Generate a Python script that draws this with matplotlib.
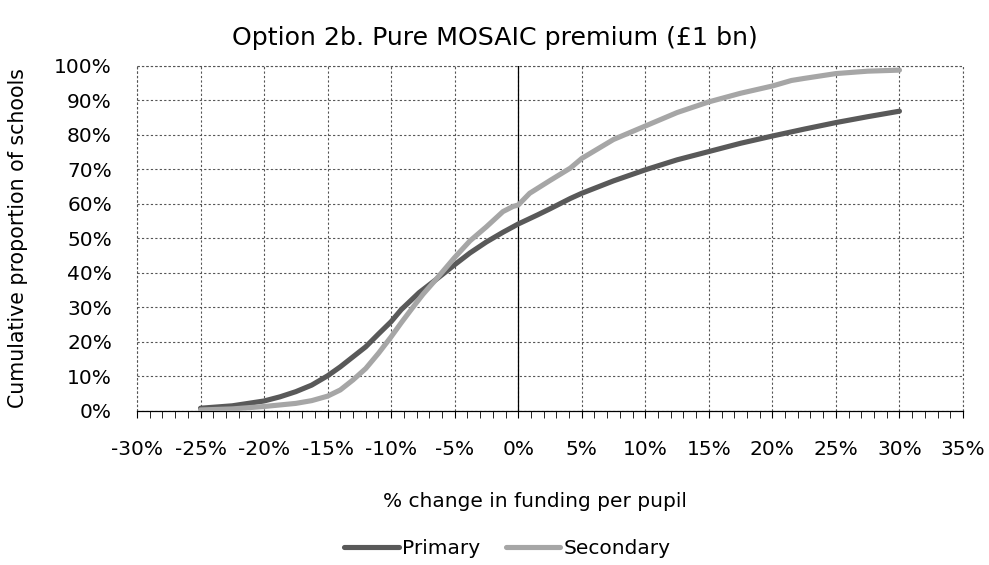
import matplotlib
matplotlib.use("Agg")
import matplotlib.pyplot as plt
from matplotlib.ticker import MultipleLocator, FuncFormatter

plt.rcParams['font.family'] = ['DejaVu Sans']

# % change in funding per pupil (x) vs cumulative share of schools in % (y)
primary_x = [-25, -22.5, -20, -18.75, -17.5, -16.25, -15, -14, -13, -12, -11, -10,
             -9.2, -7.8, -6.5, -5, -3.8, -2.5, -1.2, 0, 1.5, 2.5, 4.1, 5,
             7.5, 10, 12.5, 15, 17.5, 20, 22.5, 25, 27.5, 30]
primary_y = [0.8, 1.5, 2.9, 4.1, 5.6, 7.5, 10.2, 12.8, 15.7, 18.6, 22.3, 25.9,
             29.4, 34.3, 38.0, 42.4, 45.8, 49.0, 51.8, 54.2, 56.8, 58.6, 61.6, 63.1,
             66.7, 69.9, 72.8, 75.2, 77.6, 79.7, 81.7, 83.6, 85.3, 86.9]

secondary_x = [-25, -22.5, -20, -17.5, -16.25, -15, -14, -13, -12, -11, -10,
               -9.2, -8.3, -7.5, -6.5, -5, -3.8, -2.5, -1.2, -0.4, 0, 0.9,
               2.5, 4.1, 5, 7.5, 10, 12.5, 15, 17.5, 20, 21.5, 22.5, 25, 27.5, 30]
secondary_y = [0.3, 0.6, 1.3, 2.2, 3.0, 4.3, 6.1, 9.0, 12.3, 16.7, 21.5,
               25.6, 30.0, 33.8, 38.0, 44.5, 49.3, 53.4, 57.8, 59.3, 59.7, 63.1,
               66.8, 70.4, 73.2, 78.7, 82.6, 86.5, 89.6, 92.1, 94.2, 95.8, 96.4, 97.8, 98.5, 98.8]

fig = plt.figure(figsize=(9.89, 5.65), dpi=100)
ax = fig.add_axes([0.1385, 0.2726, 0.8352, 0.6106])

ax.plot(primary_x, primary_y, color='#595959', lw=3.7, solid_capstyle='round',
        solid_joinstyle='round', label='Primary', zorder=3)
ax.plot(secondary_x, secondary_y, color='#a6a6a6', lw=3.7, solid_capstyle='round',
        solid_joinstyle='round', label='Secondary', zorder=3)

ax.set_xlim(-30, 35)
ax.set_ylim(0, 100)
ax.xaxis.set_major_locator(MultipleLocator(5))
ax.xaxis.set_minor_locator(MultipleLocator(1))
ax.yaxis.set_major_locator(MultipleLocator(10))
ax.xaxis.set_major_formatter(FuncFormatter(lambda v, p: f'{v:.0f}%'))
ax.yaxis.set_major_formatter(FuncFormatter(lambda v, p: f'{v:.0f}%'))

grid_ls = (0, (2, 2))
ax.grid(True, which='major', color='#555555', linestyle=grid_ls, linewidth=0.8)
ax.axvline(0, color='black', lw=0.9, zorder=2)
for s in ['left', 'top', 'right']:
    ax.spines[s].set_visible(False)
ax.spines['bottom'].set_linewidth(0.9)
# dashed frame around the plot area
ax.plot([-30, -30], [0, 100], color='#555555', ls=grid_ls, lw=0.8, clip_on=False)
ax.plot([35, 35], [0, 100], color='#555555', ls=grid_ls, lw=0.8, clip_on=False)
ax.plot([-30, 35], [100, 100], color='#555555', ls=grid_ls, lw=0.8, clip_on=False)

ax.tick_params(axis='x', which='major', direction='out', length=5, width=0.8, pad=16, labelsize=14.5)
ax.tick_params(axis='x', which='minor', direction='out', length=5, width=0.6)
ax.tick_params(axis='y', length=0, pad=18, labelsize=14.5)

ax.set_xlabel('% change in funding per pupil', fontsize=14.5)
ax.xaxis.set_label_coords(0.482, -0.235)
ax.set_ylabel('Cumulative proportion of schools', fontsize=14.8, labelpad=19)
fig.text(0.5, 0.933, 'Option 2b. Pure MOSAIC premium (£1 bn)', fontsize=18.2,
         ha='center', va='center')

fig.legend(loc='center', bbox_to_anchor=(0.513, 0.03), ncol=2, frameon=False,
           fontsize=14.5, handlelength=2.7, handletextpad=0.15, columnspacing=1.3)

fig.savefig('out.png', dpi=100)
